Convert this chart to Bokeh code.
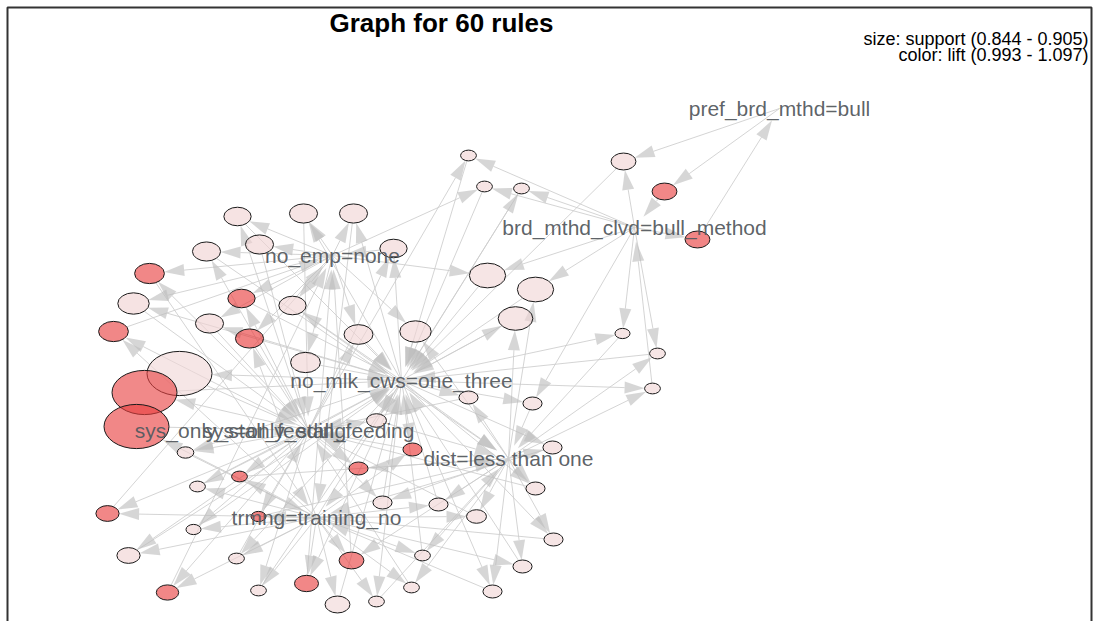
import math
from bokeh.plotting import figure
from bokeh.models import Range1d
from bokeh.core.properties import value
from bokeh.embed import file_html
from bokeh.resources import INLINE

# ---------------- data ----------------
# rule vertices (layout position in picture pixels), support and lift
rule_x = [468, 484, 521, 623, 664, 697, 237, 303, 353, 206,
          259, 393, 149, 133, 241, 292, 113, 209, 249, 358,
          415, 487, 535, 515, 305, 179, 144, 136, 622, 657,
          652, 468, 532, 376, 552, 185, 239, 358, 197, 412,
          535, 382, 438, 476, 107, 258, 553, 128, 236, 351,
          422, 522, 306, 258, 376, 337, 411, 492, 167, 193]
rule_y = [155, 186, 188, 161, 191, 239, 216, 213, 213, 251,
          244, 248, 273, 303, 298, 305, 331, 323, 338, 334,
          331, 275, 289, 318, 362, 373, 392, 426, 333, 353,
          388, 397, 403, 420, 447, 452, 476, 468, 486, 449,
          488, 502, 504, 516, 513, 516, 539, 555, 558, 560,
          555, 566, 583, 590, 601, 604, 587, 591, 592, 529]
rule_support = [0.845, 0.845, 0.845, 0.856, 0.856, 0.856, 0.859, 0.860, 0.860, 0.860,
                0.860, 0.859, 0.862, 0.864, 0.859, 0.859, 0.862, 0.860, 0.860, 0.861,
                0.864, 0.870, 0.870, 0.868, 0.862, 0.905, 0.905, 0.905, 0.844, 0.845,
                0.845, 0.849, 0.849, 0.850, 0.849, 0.846, 0.845, 0.849, 0.845, 0.849,
                0.849, 0.849, 0.849, 0.850, 0.854, 0.844, 0.849, 0.854, 0.845, 0.856,
                0.845, 0.849, 0.855, 0.845, 0.845, 0.856, 0.845, 0.849, 0.853, 0.844]
rule_lift = [0.997, 0.997, 0.997, 0.998, 1.090, 1.092, 0.998, 0.997, 0.997, 0.998,
             0.998, 0.997, 1.090, 0.998, 1.092, 0.997, 1.090, 0.998, 1.094, 0.997,
             0.997, 0.996, 0.996, 0.996, 0.997, 0.995, 1.088, 1.090, 0.996, 0.996,
             0.996, 0.997, 0.996, 0.997, 0.997, 0.997, 1.094, 1.095, 0.997, 1.097,
             0.996, 0.997, 0.997, 0.996, 1.090, 1.094, 0.996, 0.998, 0.997, 1.090,
             0.997, 0.996, 1.090, 0.997, 0.997, 0.995, 0.997, 0.996, 1.090, 0.997]
rule_lhs = ["B,S", "B,E", "B,T", "P,B", "P", "B", "E,S", "E,M", "E,M", "E,S",
            "E", "M,S", "E,S", "E,M", "E,S", "E,M", "S,T", "E,M", "E,T", "E,S",
            "E,D", "E,B", "B,D", "D,S", "E", "M", "S", "T", "M,B", "B,D",
            "M,D", "M,D", "M,B", "S,M", "M,D", "S,M", "S,T", "S,D", "S,T", "M,T",
            "D,M", "D,S", "D,T", "D,T", "S,T", "T,S", "D,M", "T,S", "T,M", "T,D",
            "T,D", "D,T", "T,M", "T,S", "T,M", "T", "T,D", "D,M", "T,S", "T,S"]
rule_rhs = ["M", "M", "M", "M", "B", "P", "M", "S", "T", "D",
            "S", "E", "T", "S", "M", "D", "E", "S", "S", "M",
            "M", "M", "M", "M", "M", "S", "M", "S", "D", "M",
            "B", "S", "D", "D", "T", "T", "D", "T", "M", "S",
            "S", "M", "M", "S", "E", "D", "T", "M", "S", "E",
            "M", "M", "E", "M", "D", "M", "S", "T", "E", "M"]

# item vertices (labels)
item_codes = ["P", "B", "E", "M", "S", "S2", "D", "T"]
item_labels = ["pref_brd_mthd=bull", "brd_mthd_clvd=bull_method", "no_emp=none",
               "no_mlk_cws=one_three", "sys=only_stall_feeding", "sys_only_stall_feeding",
               "dist=less than one", "trmng=training_no"]
item_x = [779, 634, 332, 401, 308, 240, 508, 316]
item_y = [108, 227, 255, 380, 430, 430, 458, 517]

title_text = "Graph for 60 rules"
legend_lines = ["size: support (0.844 - 0.905)", "color: lift (0.993 - 1.097)"]
sup_min, sup_max = 0.844, 0.905
lift_min, lift_max = 0.993, 1.097

# ---------------- figure ----------------
W, H = 1095, 621
p = figure(width=W, height=H, output_backend="svg", toolbar_location=None,
           x_range=Range1d(0, W), y_range=Range1d(H, 0),
           min_border=0)
p.axis.visible = False
p.xgrid.visible = False
p.ygrid.visible = False
p.outline_line_color = None
p.background_fill_color = "white"

ASPECT = 1.47


def rule_w(s):
    return 15 + (s - sup_min) / (sup_max - sup_min) * 50


def rule_color(l):
    t = max(0.0, min(1.0, (l - lift_min) / (lift_max - lift_min)))
    c0 = (240, 218, 218)
    c1 = (232, 50, 50)
    r, g, b = [int(round(c0[k] + (c1[k] - c0[k]) * t)) for k in range(3)]
    return "#%02x%02x%02x" % (r, g, b)


widths = [rule_w(s) for s in rule_support]
heights = [w / ASPECT for w in widths]
colors = [rule_color(l) for l in rule_lift]

AL, AW = 20.0, 12.0
ITEM_GAP = 14.0
lx0, ly0, lx1, ly1 = [], [], [], []
hx, hy = [], []


def boundary(ux, uy, a, b):
    return 1.0 / math.sqrt((ux / a) ** 2 + (uy / b) ** 2)


def add_edge(sx, sy, tx, ty):
    dx, dy = tx - sx, ty - sy
    L = math.hypot(dx, dy)
    ux, uy = dx / L, dy / L
    bx, by = tx - ux * AL, ty - uy * AL
    lx0.append(sx); ly0.append(sy); lx1.append(bx); ly1.append(by)
    px, py = -uy, ux
    hx.append([tx, bx + px * AW / 2, bx - px * AW / 2])
    hy.append([ty, by + py * AW / 2, by - py * AW / 2])


for i in range(len(rule_x)):
    rx, ry = rule_x[i], rule_y[i]
    a, b = widths[i] / 2, heights[i] / 2
    for code in rule_lhs[i].split(","):
        j = item_codes.index(code)
        sx, sy = item_x[j], item_y[j]
        d = math.hypot(rx - sx, ry - sy)
        ux, uy = (rx - sx) / d, (ry - sy) / d
        t = boundary(ux, uy, a, b)
        add_edge(sx, sy, rx - ux * t, ry - uy * t)
    j = item_codes.index(rule_rhs[i])
    tx, ty = item_x[j], item_y[j]
    d = math.hypot(tx - rx, ty - ry)
    ux, uy = (tx - rx) / d, (ty - ry) / d
    t = boundary(ux, uy, a, b)
    add_edge(rx + ux * t, ry + uy * t, tx - ux * ITEM_GAP, ty - uy * ITEM_GAP)

p.segment(x0=lx0, y0=ly0, x1=lx1, y1=ly1, line_color="#cdcdcd", line_width=1, line_alpha=0.85)
p.patches(xs=hx, ys=hy, fill_color="#bdbdbd", fill_alpha=0.62, line_color=None)

p.ellipse(x=rule_x, y=rule_y, width=widths, height=heights,
          fill_color=colors, fill_alpha=0.62, line_color="#1a1a1a", line_width=1)

p.text(x=item_x, y=item_y, text=item_labels, text_align="center", text_baseline="middle",
       text_font=value("Liberation Sans"), text_font_size="21px", text_color="#555a60",
       text_alpha=0.95)

p.text(x=[441], y=[22], text=[title_text], text_align="center", text_baseline="middle",
       text_font=value("Liberation Sans"), text_font_size="26px", text_font_style="bold",
       text_color="#000000")
p.text(x=[1088, 1088], y=[38, 54], text=legend_lines, text_align="right", text_baseline="middle",
       text_font=value("Liberation Sans"), text_font_size="18px", text_color="#000000")

# frame (left, top, right)
p.line(x=[7, 7, 1091, 1091], y=[660, 7, 7, 660], line_color="#333333", line_width=2)

open("out.html", "w").write(file_html(p, INLINE))
